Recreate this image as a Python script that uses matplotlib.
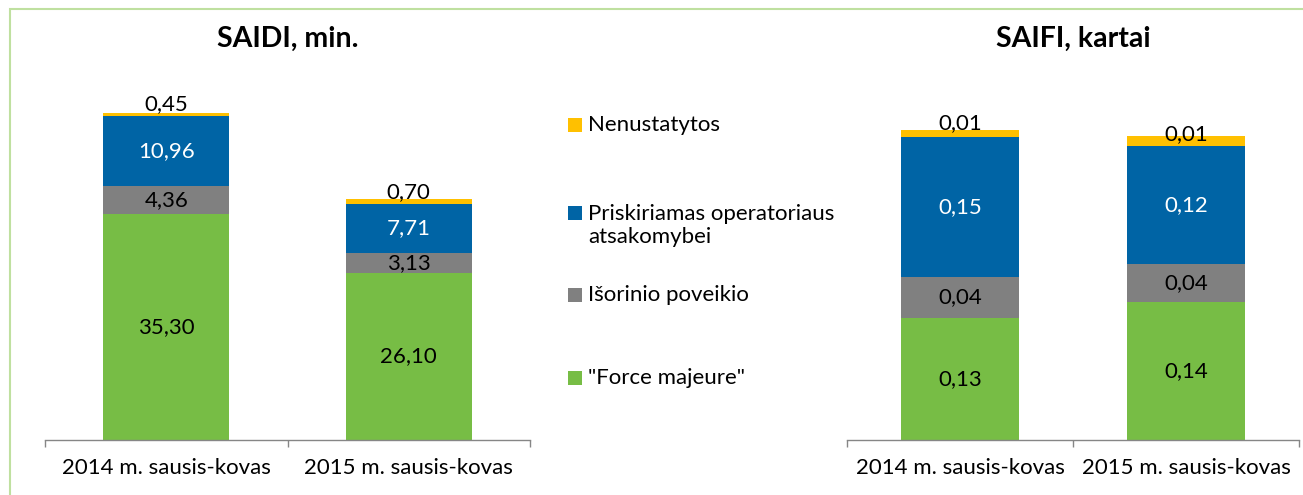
import matplotlib.pyplot as plt
from matplotlib.patches import Rectangle

plt.rcParams['font.family'] = ['Lato', 'DejaVu Sans']

# duomenys
periods = ['2014 m. sausis-kovas', '2015 m. sausis-kovas']
series_names = ['"Force majeure"', 'Išorinio poveikio',
                'Priskiriamas operatoriaus\natsakomybei', 'Nenustatytos']
colors = ['#77BD45', '#808080', '#0064A5', '#FFC000']
text_colors = ['black', 'black', 'white', 'black']

saidi_force = [35.30, 26.10]
saidi_isor = [4.36, 3.13]
saidi_prisk = [10.96, 7.71]
saidi_nenust = [0.45, 0.70]

saifi_force = [0.127, 0.144]
saifi_isor = [0.043, 0.039]
saifi_prisk = [0.146, 0.123]
saifi_nenust = [0.0066, 0.011]

W, H = 1303, 495
fig = plt.figure(figsize=(W / 100, H / 100), dpi=100)

def fx(x):
    return x / W

def fy(y):
    return 1 - y / H

FS = 16

def draw(rect, stacks, ymax, title, top_dy):
    ax = fig.add_axes(rect)
    x = list(range(len(periods)))
    bottom = [0] * len(periods)
    for i, vals in enumerate(stacks):
        ax.bar(x, vals, width=0.52, bottom=bottom, color=colors[i], linewidth=0)
        for j, v in enumerate(vals):
            txt = f'{v:.2f}'.replace('.', ',')
            if i == len(stacks) - 1:
                ax.annotate(txt, (x[j], bottom[j] + v), xytext=(0, top_dy[j]),
                            textcoords='offset points', ha='center', va='baseline',
                            fontsize=FS, color=text_colors[i])
            else:
                ax.text(x[j], bottom[j] + v / 2, txt, ha='center', va='center',
                        fontsize=FS, color=text_colors[i])
        bottom = [b + v for b, v in zip(bottom, vals)]
    ax.set_xlim(-0.5, len(periods) - 0.5)
    ax.set_ylim(0, ymax)
    for s in ['top', 'left', 'right']:
        ax.spines[s].set_visible(False)
    ax.spines['bottom'].set_color('#868686')
    ax.spines['bottom'].set_linewidth(1.0)
    ax.set_yticks([])
    ax.set_xticks(x)
    ax.set_xticklabels(periods, fontsize=FS)
    ax.tick_params(axis='x', which='major', length=0, pad=13)
    ax.set_xticks([-0.5, 0.5, 1.5], minor=True)
    ax.tick_params(axis='x', which='minor', length=5, width=1.0, color='#868686')
    ax.set_title(title, fontsize=20.5, fontweight='bold', pad=6.5)
    ax.patch.set_alpha(0)
    return ax

draw([fx(45), fy(440), fx(485), 384 / H],
     [saidi_force, saidi_isor, saidi_prisk, saidi_nenust], 60, 'SAIDI, min.', [2, 1])
draw([fx(847), fy(440), fx(452), 384 / H],
     [saifi_force, saifi_isor, saifi_prisk, saifi_nenust], 0.4, 'SAIFI, kartai', [1, -3])

# legenda
sq_y = [378, 295, 213, 125]
txt_y = [378, 295, 225.5, 125]
for i, name in enumerate(series_names):
    fig.add_artist(Rectangle((fx(568), fy(sq_y[i] + 7)), 14 / W, 14 / H,
                             transform=fig.transFigure, color=colors[i], lw=0))
    fig.text(fx(588), fy(txt_y[i]), name, ha='left', va='center',
             fontsize=FS, linespacing=1.2)

# rėmelis
fig.add_artist(Rectangle((fx(10), fy(H + 20)), (W + 20) / W, (H + 11) / H,
                         transform=fig.transFigure, fill=False,
                         edgecolor='#BFE0A0', lw=1.5))

plt.savefig('out.png', dpi=100)
